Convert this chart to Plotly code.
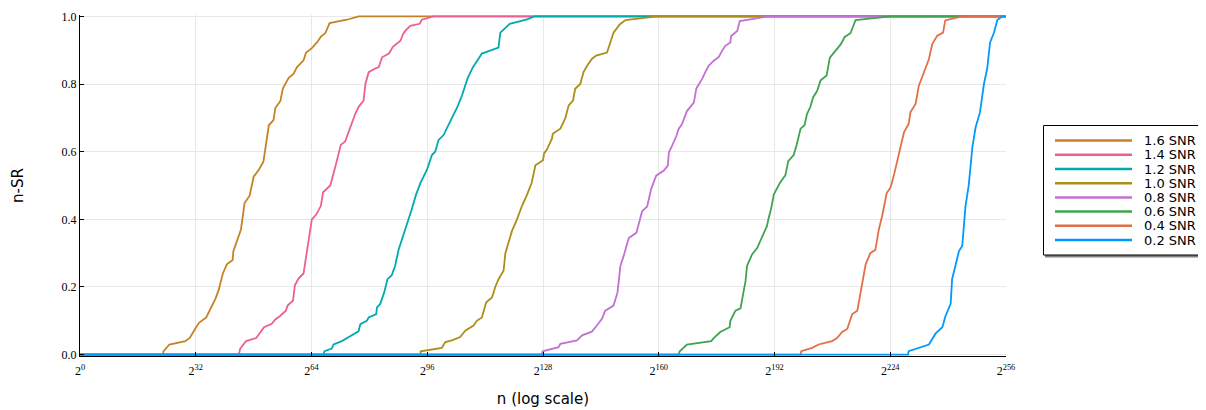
import plotly.graph_objects as go

# x values are log2(n); y values are n-SR
snr_labels = ["1.6 SNR", "1.4 SNR", "1.2 SNR", "1.0 SNR", "0.8 SNR", "0.6 SNR", "0.4 SNR", "0.2 SNR"]
snr_colors = ["#C68225", "#ED5E93", "#00AAAE", "#AC8E18", "#C371D2", "#3EA44E", "#E36F47", "#009AFA"]

snr16_x = [0, 22.9, 23.1, 24.0, 24.7, 29.1, 30.4, 31.8, 32.9, 34.9, 36.0, 37.4, 38.3, 38.7, 39.5, 40.6, 42.2, 42.4, 43.5, 44.5, 45.5, 46.9, 48.0, 49.4, 50.7, 51.4, 52.2, 53.5, 54.0, 55.4, 56.1, 57.7, 59.0, 60.0, 61.8, 62.5, 64.1, 65.5, 66.6, 67.8, 69.0, 73.8, 77.0, 256]
snr16_y = [0, 0, 0.01, 0.02, 0.03, 0.04, 0.05, 0.076, 0.094, 0.11, 0.135, 0.164, 0.19, 0.21, 0.24, 0.267, 0.28, 0.306, 0.34, 0.37, 0.448, 0.47, 0.526, 0.546, 0.57, 0.615, 0.678, 0.693, 0.729, 0.75, 0.787, 0.818, 0.83, 0.85, 0.87, 0.893, 0.906, 0.923, 0.94, 0.95, 0.98, 0.99, 1.0, 1.0]

snr14_x = [0, 43.9, 44.3, 45.9, 48.7, 49.8, 50.9, 53.0, 54.0, 55.4, 56.9, 57.4, 58.9, 59.4, 60.4, 61.8, 62.5, 63.5, 64.1, 65.3, 66.6, 67.2, 69.2, 70.6, 71.8, 72.1, 73.3, 74.5, 76.1, 77.0, 78.4, 78.9, 79.8, 81.6, 82.6, 83.5, 85.4, 86.5, 88.6, 89.3, 89.9, 91.3, 93.9, 94.5, 97.7, 256]
snr14_y = [0, 0, 0.018, 0.04, 0.049, 0.067, 0.081, 0.091, 0.104, 0.115, 0.13, 0.145, 0.16, 0.205, 0.225, 0.24, 0.29, 0.36, 0.40, 0.414, 0.44, 0.48, 0.5, 0.556, 0.605, 0.62, 0.63, 0.668, 0.712, 0.732, 0.751, 0.80, 0.835, 0.846, 0.85, 0.879, 0.89, 0.91, 0.928, 0.947, 0.957, 0.972, 0.978, 0.99, 1.0, 1.0]

snr12_x = [0, 67.3, 67.6, 69.6, 70.1, 72.4, 74.3, 77.0, 77.5, 79.3, 79.8, 81.9, 82.1, 83.0, 84.1, 85.0, 86.2, 87.1, 88.1, 89.3, 90.4, 91.7, 92.9, 94.1, 95.9, 97.3, 98.2, 99.1, 100.5, 101.9, 103.1, 104.4, 105.6, 107.2, 108.6, 110.7, 111.1, 115.7, 116.2, 118.8, 123.6, 125.6, 256]
snr12_y = [0, 0, 0.01, 0.018, 0.03, 0.04, 0.052, 0.069, 0.09, 0.10, 0.11, 0.12, 0.14, 0.15, 0.184, 0.223, 0.235, 0.262, 0.311, 0.35, 0.38, 0.429, 0.473, 0.507, 0.546, 0.59, 0.6, 0.634, 0.649, 0.678, 0.703, 0.734, 0.766, 0.818, 0.849, 0.886, 0.89, 0.908, 0.952, 0.978, 0.991, 1.0, 1.0]

snr10_x = [0, 94.1, 94.2, 100.0, 101.0, 102.8, 105.1, 106.5, 108.8, 109.7, 111.1, 112.3, 113.9, 114.8, 115.7, 117.1, 117.6, 118.5, 119.4, 120.8, 122.2, 123.6, 124.9, 125.9, 128.0, 128.3, 129.1, 130.5, 130.7, 132.8, 134.2, 135.1, 136.3, 136.9, 138.3, 139.2, 140.2, 141.5, 142.7, 145.7, 146.6, 147.5, 149.2, 150.8, 159.5, 256]
snr10_y = [0, 0, 0.01, 0.02, 0.037, 0.042, 0.052, 0.071, 0.086, 0.10, 0.11, 0.155, 0.169, 0.2, 0.223, 0.248, 0.30, 0.331, 0.365, 0.4, 0.44, 0.473, 0.509, 0.56, 0.575, 0.595, 0.607, 0.639, 0.653, 0.668, 0.70, 0.737, 0.751, 0.786, 0.8, 0.835, 0.854, 0.874, 0.884, 0.893, 0.923, 0.952, 0.976, 0.989, 1.0, 1.0]

snr08_x = [0, 127.7, 127.9, 132.3, 132.8, 137.4, 138.8, 141.5, 142.9, 144.3, 145.2, 147.5, 148.6, 149.4, 150.3, 151.7, 153.8, 154.7, 155.4, 156.8, 157.7, 157.9, 159.3, 161.4, 162.5, 162.8, 163.7, 164.9, 165.5, 166.4, 167.8, 169.7, 170.4, 172.0, 172.9, 173.8, 175.2, 176.6, 177.5, 178.4, 179.8, 180.0, 181.7, 182.4, 190.4, 256]
snr08_y = [0, 0, 0.01, 0.022, 0.032, 0.042, 0.057, 0.068, 0.086, 0.106, 0.13, 0.145, 0.184, 0.262, 0.292, 0.345, 0.36, 0.4, 0.424, 0.438, 0.477, 0.49, 0.529, 0.544, 0.559, 0.598, 0.618, 0.647, 0.667, 0.681, 0.72, 0.745, 0.787, 0.815, 0.836, 0.854, 0.869, 0.88, 0.898, 0.913, 0.923, 0.942, 0.957, 0.986, 1.0, 1.0]

snr06_x = [0, 165.5, 165.8, 167.8, 174.5, 175.2, 177.0, 179.6, 179.8, 181.2, 182.6, 183.0, 184.0, 184.4, 185.8, 187.2, 188.1, 189.9, 190.4, 191.1, 191.8, 192.7, 193.6, 195.0, 195.8, 197.3, 198.1, 199.2, 200.3, 201.0, 201.9, 202.7, 203.8, 204.7, 206.4, 207.3, 208.9, 210.3, 211.4, 213.0, 214.4, 224.1, 256]
snr06_y = [0, 0, 0.01, 0.03, 0.04, 0.049, 0.067, 0.081, 0.10, 0.13, 0.137, 0.164, 0.218, 0.262, 0.296, 0.315, 0.335, 0.38, 0.404, 0.433, 0.473, 0.492, 0.51, 0.53, 0.572, 0.59, 0.619, 0.668, 0.678, 0.712, 0.732, 0.761, 0.78, 0.81, 0.825, 0.878, 0.898, 0.917, 0.939, 0.95, 0.989, 1.0, 1.0]

snr04_x = [0, 199.2, 199.4, 202.4, 204.2, 207.9, 209.3, 210.7, 212.1, 213.5, 214.9, 215.8, 217.2, 218.5, 219.9, 220.8, 221.8, 223.0, 224.1, 225.0, 225.9, 226.8, 227.8, 229.1, 229.6, 231.0, 231.9, 232.8, 233.8, 234.7, 235.6, 237.0, 238.6, 239.2, 243.9, 256]
snr04_y = [0, 0, 0.01, 0.02, 0.03, 0.04, 0.049, 0.067, 0.076, 0.12, 0.13, 0.184, 0.267, 0.30, 0.31, 0.368, 0.412, 0.477, 0.495, 0.53, 0.569, 0.613, 0.657, 0.683, 0.717, 0.741, 0.795, 0.82, 0.849, 0.874, 0.918, 0.943, 0.952, 0.988, 1.0, 1.0]

snr02_x = [0, 228.9, 229.1, 234.7, 236.5, 238.4, 239.3, 240.7, 241.1, 242.0, 243.0, 243.9, 244.8, 245.7, 246.7, 247.6, 248.8, 249.9, 250.8, 251.6, 252.7, 253.6, 255.0, 256]
snr02_y = [0, 0, 0.01, 0.03, 0.062, 0.081, 0.115, 0.15, 0.223, 0.262, 0.306, 0.321, 0.438, 0.501, 0.613, 0.672, 0.716, 0.80, 0.845, 0.923, 0.952, 0.989, 1.0, 1.0]

x_tick_exps = [0, 32, 64, 96, 128, 160, 192, 224, 256]
y_ticks = [0.0, 0.2, 0.4, 0.6, 0.8, 1.0]

series_x = [snr16_x, snr14_x, snr12_x, snr10_x, snr08_x, snr06_x, snr04_x, snr02_x]
series_y = [snr16_y, snr14_y, snr12_y, snr10_y, snr08_y, snr06_y, snr04_y, snr02_y]

# the page body has an 8px margin, so the figure is drawn 8px in from the window edge
OFF = 8
W, H = 1206 - OFF, 410 - OFF
ML, MT = 80 - OFF, 15 - OFF
PW, PH = 926, 341
MR, MB = W - ML - PW, H - MT - PH


def px_to_paper_x(px):
    return (px - OFF - ML) / PW


def px_to_paper_y(py):
    return (MT + PH - (py - OFF)) / PH


fig = go.Figure()
for lab, col, xs, ys in zip(snr_labels, snr_colors, series_x, series_y):
    fig.add_trace(go.Scatter(x=xs, y=ys, mode="lines", name=lab,
                             line=dict(color=col, width=1.8)))

# custom legend (box, shadow, sample lines and labels)
shapes = [
    dict(type="rect", xref="paper", yref="paper",
         x0=px_to_paper_x(1045), x1=px_to_paper_x(1216),
         y0=px_to_paper_y(257.5), y1=px_to_paper_y(127),
         fillcolor="#808080", line=dict(width=0), layer="above"),
    dict(type="rect", xref="paper", yref="paper",
         x0=px_to_paper_x(1043.5), x1=px_to_paper_x(1214),
         y0=px_to_paper_y(255), y1=px_to_paper_y(125.5),
         fillcolor="white", line=dict(color="#000000", width=1), layer="above"),
]
annotations = []
row0, row_step = 140.6, 14.2
for i, (lab, col) in enumerate(zip(snr_labels, snr_colors)):
    yy = px_to_paper_y(row0 + i * row_step)
    shapes.append(dict(type="line", xref="paper", yref="paper",
                       x0=px_to_paper_x(1055), x1=px_to_paper_x(1132),
                       y0=yy, y1=yy, line=dict(color=col, width=2.5), layer="above"))
    annotations.append(dict(xref="paper", yref="paper", x=px_to_paper_x(1142), y=yy,
                            text=lab, showarrow=False, xanchor="left", yanchor="middle",
                            font=dict(family="DejaVu Sans, sans-serif", size=13, color="#000000")))

tick_font = dict(family="Liberation Serif, DejaVu Serif, serif", size=12, color="#000000")
fig.update_layout(
    width=W, height=H,
    margin=dict(l=ML, r=MR, t=MT, b=MB, autoexpand=False),
    paper_bgcolor="white", plot_bgcolor="white",
    font=dict(family="DejaVu Sans, sans-serif", color="#000000"),
    showlegend=False,
    shapes=shapes, annotations=annotations,
    xaxis=dict(range=[0, 256], tickvals=x_tick_exps,
               ticktext=[f"2<sup>{e}</sup>" for e in x_tick_exps],
               showgrid=True, gridcolor="#e8e8e8", gridwidth=1,
               showline=True, linecolor="#000000", linewidth=1,
               ticks="inside", ticklen=4, tickcolor="#000000",
               tickfont=tick_font, zeroline=False, automargin=False,
               ticklabelstandoff=4,
               title=dict(text="n (log scale)", font=dict(size=15), standoff=16)),
    yaxis=dict(range=[-0.004, 1.004], tickvals=y_ticks,
               ticktext=[f"{v:.1f}" for v in y_ticks],
               showgrid=True, gridcolor="#e8e8e8", gridwidth=1,
               showline=True, linecolor="#000000", linewidth=1,
               ticks="inside", ticklen=4, tickcolor="#000000",
               tickfont=tick_font, zeroline=False, automargin=False,
               title=dict(text="n-SR", font=dict(size=15), standoff=34)),
)

fig.write_html("out.html")
